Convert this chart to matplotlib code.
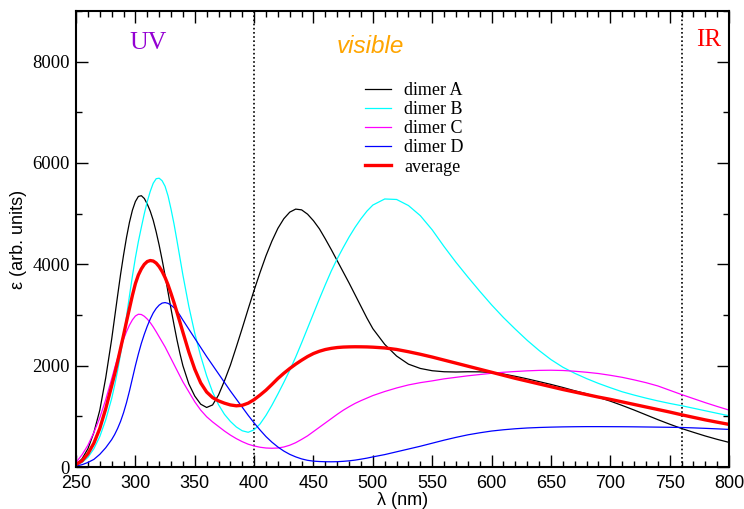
import numpy as np
import matplotlib
matplotlib.use('Agg')
import matplotlib.pyplot as plt
from matplotlib.ticker import MultipleLocator

plt.rcParams.update({'font.family': 'Liberation Sans', 'font.size': 13})

# wavelength grid (nm): finer around the UV peaks, coarser in the red tail
wavelength = (list(range(250, 281, 5)) + list(np.arange(282.5, 338, 2.5))
              + list(range(340, 500, 5)) + list(range(500, 801, 10)))

dimer_a = [50, 160, 360, 680, 1120, 1760, 2520,
           2950, 3380, 3800, 4180, 4530, 4830, 5070, 5240, 5340, 5355,
           5300, 5190, 5050, 4870, 4640, 4380, 4090, 3780, 3450, 3120,
           2810, 2510, 2240,
           2000, 1640, 1400, 1240, 1175, 1225, 1420, 1700, 2010, 2370,
           2740, 3120, 3490, 3840, 4170, 4460, 4710, 4900, 5030, 5090,
           5075, 4990, 4860, 4700, 4500, 4290, 4070, 3850, 3630, 3400,
           3170, 2940,
           2730, 2420, 2190, 2030, 1945, 1900, 1880, 1875, 1880, 1878,
           1865, 1835, 1790, 1740, 1685, 1630, 1570, 1505, 1445, 1375,
           1300, 1215, 1125, 1030, 935, 845, 760, 685, 612, 546, 486]

dimer_b = [40, 90, 190, 360, 600, 930, 1350,
           1610, 1900, 2230, 2580, 2970, 3380, 3770, 4130, 4450, 4730,
           5000, 5240, 5440, 5600, 5690, 5700, 5650, 5540, 5350, 5090,
           4800, 4470, 4130,
           3790, 3170, 2640, 2190, 1800, 1480, 1230, 1040, 900, 790,
           715, 685, 735, 850, 1020, 1220, 1440, 1670, 1910, 2170,
           2450, 2740, 3030, 3320, 3600, 3870, 4110, 4330, 4540, 4730,
           4900, 5050,
           5170, 5290, 5280, 5160, 4960, 4680, 4350, 4040, 3750, 3470,
           3200, 2950, 2720, 2500, 2300, 2120, 1970, 1850, 1745, 1650,
           1565, 1485, 1420, 1360, 1305, 1255, 1210, 1160, 1110, 1060, 1011]

dimer_c = [90, 240, 430, 680, 970, 1330, 1740,
           1950, 2150, 2345, 2520, 2670, 2800, 2905, 2980, 3015, 3010,
           2975, 2920, 2850, 2765, 2670, 2570, 2470, 2370, 2255, 2140,
           2025, 1910, 1795,
           1681, 1484, 1287, 1123, 992, 890, 800, 710, 630, 560,
           500, 450, 415, 390, 375, 370, 375, 395, 430, 480,
           545, 615, 700, 785, 870, 955, 1040, 1120, 1190, 1255,
           1310, 1360,
           1410, 1490, 1560, 1620, 1665, 1700, 1740, 1770, 1800, 1825,
           1850, 1870, 1885, 1898, 1907, 1910, 1905, 1890, 1870, 1845,
           1810, 1770, 1720, 1665, 1600, 1515, 1430, 1350, 1270, 1195, 1123]

dimer_d = [20, 45, 90, 150, 250, 380, 540,
           640, 760, 900, 1070, 1270, 1500, 1750, 2000, 2230, 2440,
           2620, 2780, 2920, 3040, 3130, 3195, 3235, 3245, 3230, 3195,
           3145, 3080, 2995,
           2900, 2720, 2540, 2360, 2180, 2010, 1840, 1670, 1500, 1340,
           1180, 1020, 870, 730, 600, 490, 395, 315, 250, 200,
           160, 132, 116, 108, 104, 103, 105, 112, 122, 136,
           155, 175,
           200, 245, 300, 355, 410, 470, 530, 585, 635, 675,
           710, 735, 755, 770, 780, 787, 792, 795, 797, 797,
           796, 795, 793, 790, 787, 784, 780, 772, 763, 753, 742]

average = [50, 120, 260, 470, 760, 1150, 1600,
           1830, 2080, 2340, 2600, 2870, 3130, 3390, 3620, 3790, 3910,
           4000, 4055, 4075, 4065, 4025, 3955, 3860, 3740, 3595, 3425,
           3245, 3055, 2860,
           2660, 2270, 1930, 1660, 1480, 1370, 1305, 1260, 1225, 1208,
           1218, 1260, 1330, 1420, 1517, 1630, 1747, 1850, 1944, 2030,
           2108, 2180, 2240, 2285, 2319, 2342, 2358, 2367, 2371, 2373,
           2372, 2370,
           2365, 2350, 2320, 2275, 2225, 2170, 2110, 2050, 1990, 1930,
           1870, 1810, 1750, 1695, 1640, 1585, 1530, 1480, 1430, 1380,
           1335, 1285, 1235, 1185, 1135, 1085, 1031, 980, 930, 885, 841]

series = [("dimer A", dimer_a, "black", 0.9),
          ("dimer B", dimer_b, "cyan", 0.9),
          ("dimer C", dimer_c, "magenta", 0.9),
          ("dimer D", dimer_d, "blue", 0.9),
          ("average", average, "red", 2.4)]

fig = plt.figure(figsize=(7.44, 5.09), dpi=100)
ax = fig.add_axes([0.1022, 0.0825, 0.8777, 0.8959])

for name, vals, col, lw in series:
    ax.plot(wavelength, vals, color=col, lw=lw, label=name)

# UV / visible / IR boundaries
for edge in (400, 760):
    ax.axvline(edge, color='black', lw=1.2, ls=(0, (1, 1.5)), zorder=0)

ax.text(310.6, 8256, "UV", color='#9400D3', family='Liberation Serif',
        fontsize=18.5, ha='center', va='baseline')
ax.text(469.8, 8177, "visible", color='#FFA500', style='italic',
        fontsize=17.5, ha='left', va='baseline')
ax.text(782.7, 8315, "IR", color='red', family='Liberation Serif',
        fontsize=18, ha='center', va='baseline')

ax.set_xlim(250, 800)
ax.set_ylim(0, 9000)
ax.xaxis.set_major_locator(MultipleLocator(50))
ax.xaxis.set_minor_locator(MultipleLocator(10))
ax.yaxis.set_major_locator(MultipleLocator(2000))
ax.yaxis.set_minor_locator(MultipleLocator(1000))
ax.tick_params(which='both', direction='in', top=True, right=True, width=1)
ax.tick_params(which='major', length=8.5)
ax.tick_params(which='minor', length=4.5)
ax.tick_params(axis='x', pad=5.5, labelsize=13)
ax.tick_params(axis='y', pad=4.5)
for lab in ax.get_yticklabels():
    lab.set_family('Liberation Serif')
    lab.set_fontsize(13.5)
for sp in ax.spines.values():
    sp.set_linewidth(1.5)

ax.set_xlabel("λ (nm)", fontsize=13, labelpad=0.5)
ax.set_ylabel("ε (arb. units)", fontsize=13, labelpad=4)

ax.legend(loc='upper left', bbox_to_anchor=(0.4426, 0.8443), frameon=False,
          prop={'family': 'Liberation Serif', 'size': 13},
          handlelength=1.45, handletextpad=0.7, labelspacing=0.12,
          borderaxespad=0, borderpad=0)

fig.savefig("out.png", dpi=100)
